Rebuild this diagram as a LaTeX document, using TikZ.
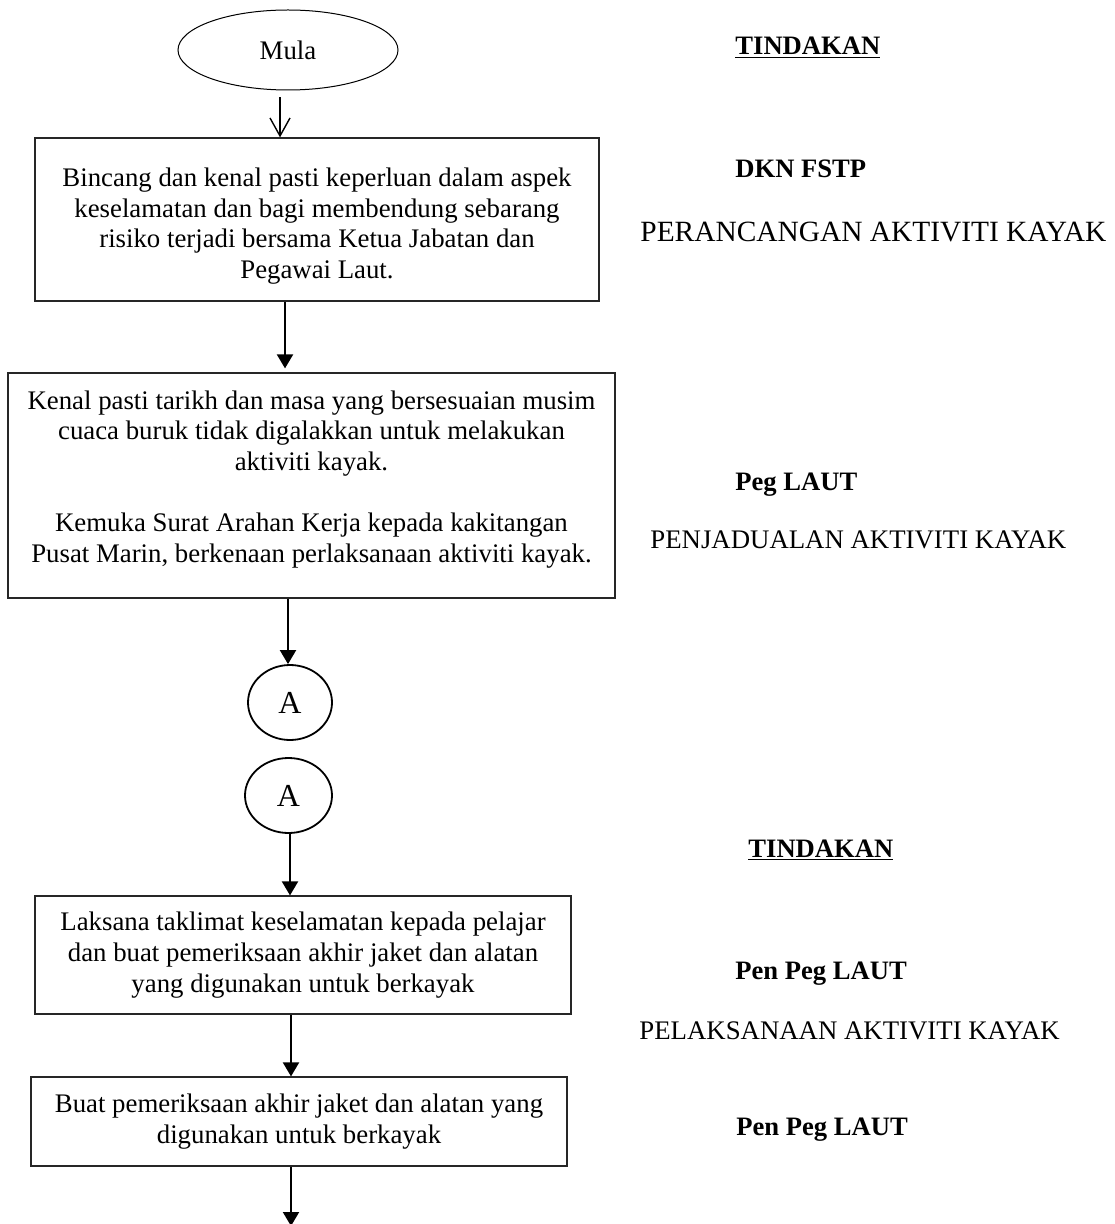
\documentclass[tikz,border=0pt]{standalone}
\usepackage{fontspec}
\setmainfont{Liberation Serif}
\usetikzlibrary{arrows.meta,shapes.geometric}
\begin{document}
\begin{tikzpicture}[x=0.5pt,y=-0.5pt,
  boxnode/.style={draw=black!85, line width=0.6pt, rectangle, inner sep=0pt, align=center,
    font=\fontsize{13.4}{15.35}\selectfont},
  connnode/.style={draw, ellipse, line width=0.9pt, inner sep=0pt, font=\fontsize{16}{18}\selectfont},
  arr/.style={line width=1pt, -{Triangle[length=7pt,width=8pt]}},
  openarr/.style={line width=0.7pt, -{Straight Barb[length=9pt,width=10pt]}},
  lbl/.style={anchor=base west, inner sep=0pt, font=\fontsize{13.4}{16}\selectfont},
  lblb/.style={lbl, font=\fontsize{13.3}{16}\selectfont\bfseries},
]
\useasboundingbox (0,0) rectangle (1114,1224);

% start
\node[draw, ellipse, line width=0.5pt, inner sep=0pt, minimum width=110pt, minimum height=40pt,
  font=\fontsize{13.4}{16}\selectfont] (mula) at (288,50) {Mula};

% boxes
\node[boxnode, minimum width=282pt, minimum height=81.5pt] (b1) at (317,219.5)
  {\rule{0pt}{16pt}Bincang dan kenal pasti keperluan dalam aspek\\keselamatan dan bagi membendung sebarang\\risiko terjadi bersama Ketua Jabatan dan\\Pegawai Laut.};

\node[boxnode, minimum width=303.5pt, minimum height=112.5pt] (b2) at (311.5,485.5)
  {Kenal pasti tarikh dan masa yang bersesuaian musim\\cuaca buruk tidak digalakkan untuk melakukan\\aktiviti kayak.\\[15.35pt]Kemuka Surat Arahan Kerja kepada kakitangan\\Pusat Marin, berkenaan perlaksanaan aktiviti kayak.\rule[-9pt]{0pt}{9pt}};

\node[connnode, minimum width=42pt, minimum height=37.5pt] (c1) at (290,702.5) {A};
\node[connnode, minimum width=43.5pt, minimum height=37.5pt] (c2) at (288.5,795.5) {A};

\node[boxnode, minimum width=268pt, minimum height=59pt] (b3) at (303,955)
  {Laksana taklimat keselamatan kepada pelajar\\dan buat pemeriksaan akhir jaket dan alatan\\yang digunakan untuk berkayak};

\node[boxnode, minimum width=268pt, minimum height=44.5pt] (b4) at (299,1121.5)
  {Buat pemeriksaan akhir jaket dan alatan yang\\digunakan untuk berkayak};

% connector x positions
\coordinate (ax1) at (280,0);
\coordinate (ax2) at (285,0);
\coordinate (ax3) at (288,0);
\coordinate (ax4) at (290,0);
\coordinate (ax5) at (291,0);
\coordinate (ax6) at (291,0);
\coordinate (endpt) at (291,1226);

\draw[openarr, shorten <=3.5pt] (mula.south -| ax1) -- (b1.north -| ax1);
\draw[arr, shorten >=2pt] (b1.south -| ax2) -- (b2.north -| ax2);
\draw[arr] (b2.south -| ax3) -- (c1.north -| ax3);
\draw[arr] (c2.south -| ax4) -- (b3.north -| ax4);
\draw[arr] (b3.south -| ax5) -- (b4.north -| ax5);
\draw[arr] (b4.south -| ax6) -- (endpt);

% right-hand labels
\node[lblb] (t1) at (735,55) {\underline{TINDAKAN}};
\node[lblb] (r1) at (735,178) {DKN FSTP};
\node[lbl, font=\fontsize{14.7}{17}\selectfont] (p1) at (640,242) {PERANCANGAN AKTIVITI KAYAK};
\node[lblb] (r2) at (735,490) {Peg LAUT};
\node[lbl] (p2) at (650,548) {PENJADUALAN AKTIVITI KAYAK};
\node[lblb] (t2) at (748,857) {\underline{TINDAKAN}};
\node[lblb] (r3) at (735,979) {Pen Peg LAUT};
\node[lbl] (p3) at (639,1039) {PELAKSANAAN AKTIVITI KAYAK};
\node[lblb] (r4) at (736,1135) {Pen Peg LAUT};
\end{tikzpicture}
\end{document}
